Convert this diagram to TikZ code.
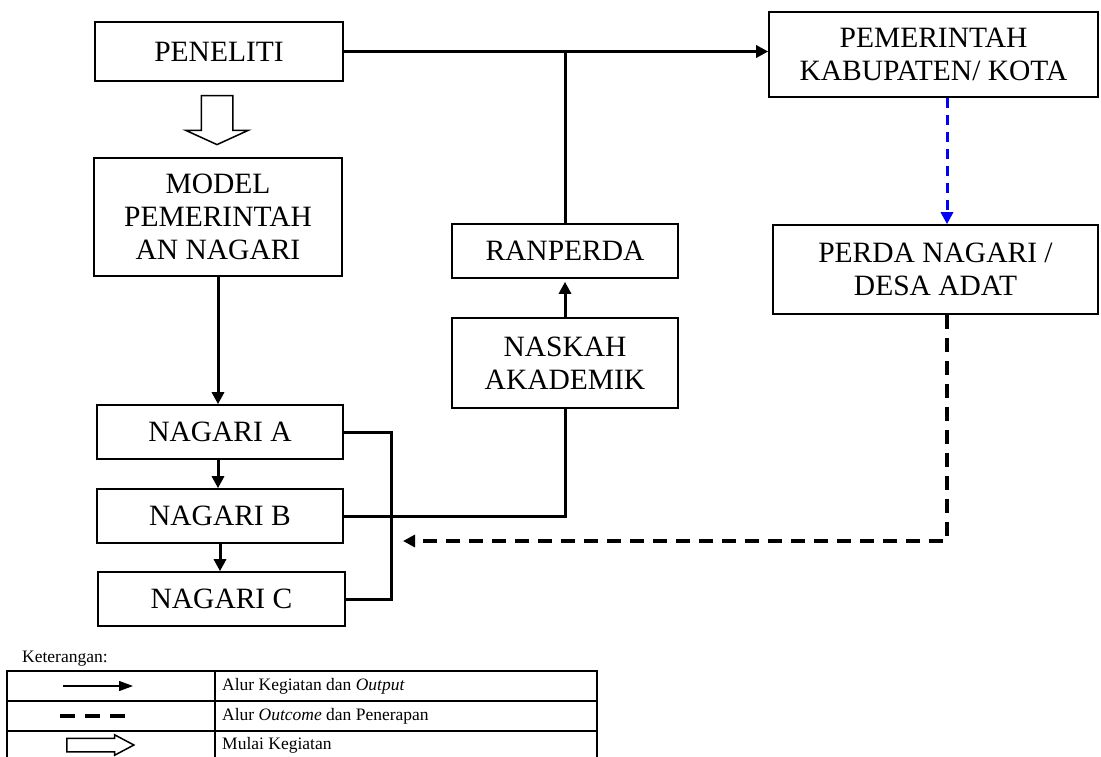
\documentclass[tikz,border=0pt]{standalone}
\usepackage{fontspec}
\setmainfont{Liberation Serif}
\usetikzlibrary{arrows.meta, shapes.arrows}

\begin{document}
\begin{tikzpicture}[
  x=1pt, y=-1pt,
  >={Triangle[length=12pt,width=12pt]},
  box/.style={
    draw, rectangle, line width=1.6pt,
    align=center, inner sep=0pt,
    font=\fontsize{29.5}{33}\selectfont
  },
  arrow/.style={->, line width=3pt},
  flow/.style={line width=3pt},
  outcome/.style={->, line width=3.5pt, dash pattern=on 14pt off 9pt},
  apply/.style={->, blue, line width=3pt, dash pattern=on 10pt off 7pt},
  hollow/.style={draw, single arrow, line width=1.5pt, inner sep=0pt, minimum width=0pt},
  legend/.style={font=\fontsize{17.5}{21}\selectfont, inner sep=0pt}
]
\useasboundingbox (0,0) rectangle (1101,756);

% --- Left column ---
\node[box, minimum width=248pt, minimum height=59pt] (peneliti) at (219,51.5) {PENELITI};
\node[hollow, shape border rotate=270, minimum height=49pt, inner xsep=15pt,
  single arrow head extend=15.5pt, single arrow tip angle=131] (mulai) at (217,116.5) {};
\node[box, minimum width=248pt, minimum height=118pt] (model) at (218,217) {MODEL\\PEMERINTAH\\AN NAGARI};
\node[box, minimum width=246pt, minimum height=54pt] (nagA) at (220,432) {NAGARI A};
\node[box, minimum width=246pt, minimum height=54pt] (nagB) at (220,516) {NAGARI B};
\node[box, minimum width=247pt, minimum height=54pt] (nagC) at (221.5,599) {NAGARI C};

% --- Middle column ---
\node[box, minimum width=226pt, minimum height=54pt] (ranperda) at (565,251) {RANPERDA};
\node[box, minimum width=226pt, minimum height=90pt] (naskah) at (565,363) {NASKAH\\AKADEMIK};

% --- Right column ---
\node[box, minimum width=329pt, minimum height=85pt] (pemkab) at (933.5,54.5) {PEMERINTAH\\KABUPATEN/ KOTA};
\node[box, minimum width=325pt, minimum height=89pt] (perda) at (935.5,269.5) {PERDA NAGARI /\\DESA ADAT};

\coordinate (brk)  at (391,0);
\coordinate (lane) at (947,0);
\coordinate (back) at (403,541);

% activity / output flow
\draw[arrow] (peneliti.east) -- (peneliti.east -| pemkab.west);
\draw[flow] (ranperda.north) -- (ranperda.north |- peneliti.east);
\draw[arrow] (model.south) -- (model.south |- nagA.north);
\draw[arrow] (nagA.south -| model.south) -- (nagB.north -| model.south);
\draw[arrow] (nagB.south) -- (nagB.south |- nagC.north);
\draw[flow] (nagA.east) -- (nagA.east -| brk) -- (nagC.east -| brk) -- (nagC.east);
\draw[flow] (nagB.east) -| (naskah.south);
\draw[arrow, shorten >=3pt] (naskah.north) -- (ranperda.south);

% outcome / application
\draw[apply] (pemkab.south -| lane) -- (perda.north -| lane);
\draw[outcome] (perda.south -| lane) |- (back);

% --- Legend ---
\node[legend, anchor=west] (ket) at (22,659) {Keterangan:};
\draw[line width=1.2pt] (7,671) rectangle (597,761);
\draw[line width=1.2pt] (215,671) -- (215,761);
\draw[line width=1.2pt] (7,701) -- (597,701);
\draw[line width=1.2pt] (7,731) -- (597,731);
\node[legend, anchor=west] (lgout) at (222,686) {Alur Kegiatan dan \textit{Output}};
\node[legend, anchor=west] (lgoutc) at (222,716) {Alur \textit{Outcome} dan Penerapan};
\node[legend, anchor=west] (lgmulai) at (222,745) {Mulai Kegiatan};
\draw[-{Triangle[length=14pt,width=10pt]}, line width=1.2pt] (63,686) -- (133,686);
\draw[line width=4pt, dash pattern=on 15pt off 10pt] (60,716) -- (127,716);
\node[hollow, minimum height=67pt, inner ysep=6pt,
  single arrow head extend=3.5pt, single arrow tip angle=56] (lgarrow) at (94,745) {};
\end{tikzpicture}
\end{document}
